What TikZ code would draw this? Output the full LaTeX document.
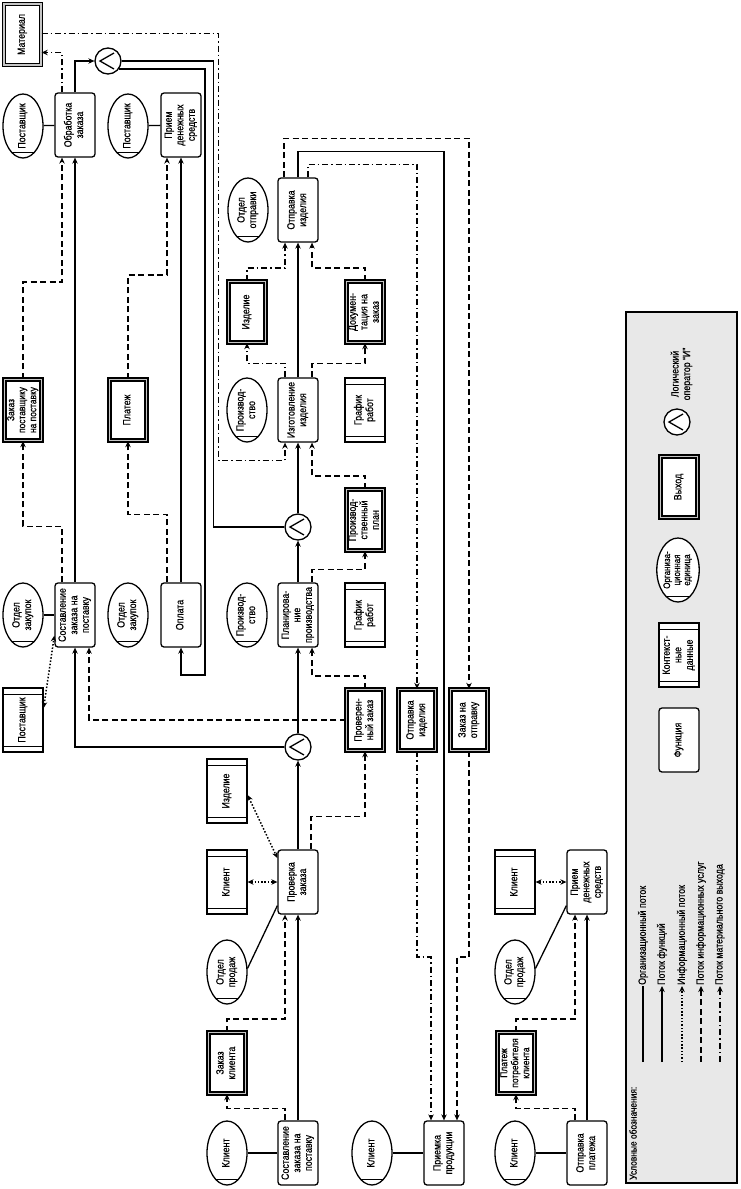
\documentclass[tikz,border=0pt]{standalone}
\usepackage{fontspec}
\setmainfont{Liberation Sans}[FakeStretch=0.84,FakeBold=0.6]
\usepackage{graphicx}
\usetikzlibrary{arrows.meta,shapes.geometric}

\newcommand{\rt}[1]{\rotatebox{90}{\begin{tabular}{@{}c@{}}#1\end{tabular}}}

\tikzset{
  base/.style={inner sep=0pt, fill=white, font=\fontsize{10.5}{11.5}\selectfont},
  fn/.style={base, draw, line width=1.3pt, rounded corners=3pt, minimum width=40pt, minimum height=64pt},
  orgu/.style={base, draw, ellipse, line width=1.3pt, minimum width=40pt, minimum height=64pt,
    path picture={\draw[line width=0.9pt] ([shift={(-14pt,-26pt)}]path picture bounding box.center) -- ([shift={(14pt,-26pt)}]path picture bounding box.center);}},
  outp/.style={base, draw, line width=1.4pt, double=gray!45, double distance=1.5pt, minimum width=37pt, minimum height=61pt},
  ctx/.style={base, draw, line width=1.2pt, minimum width=40pt, minimum height=64pt,
    path picture={
      \fill (path picture bounding box.north west) rectangle ([yshift=-4pt]path picture bounding box.north east);
      \fill (path picture bounding box.south west) rectangle ([yshift=4pt]path picture bounding box.south east);
      \draw[line width=0.7pt] ([yshift=-6pt]path picture bounding box.north west) -- ([yshift=-6pt]path picture bounding box.north east);
      \draw[line width=0.7pt] ([yshift=6pt]path picture bounding box.south west) -- ([yshift=6pt]path picture bounding box.south east);}},
  andop/.style={base, draw, circle, line width=1.3pt, minimum size=26pt,
    path picture={\draw[line width=1.3pt] ([shift={(6pt,8pt)}]path picture bounding box.center) -- ([xshift=-8pt]path picture bounding box.center) -- ([shift={(6pt,-8pt)}]path picture bounding box.center);}},
  org/.style={line width=1.3pt},
  ff/.style={line width=1.5pt, ->},
  inf/.style={line width=1.5pt, dash pattern=on 1.5pt off 1.8pt, <->},
  isf/.style={line width=1.5pt, dash pattern=on 6pt off 3.5pt, ->},
  mf/.style={line width=1.5pt, dash pattern=on 6pt off 3pt on 1.5pt off 3pt, ->},
  lab/.style={anchor=south, inner sep=1pt, font=\fontsize{10.5}{12}\selectfont}
}

\begin{document}
\begin{tikzpicture}[x=1pt, y=-1pt, >={Stealth[length=6pt,width=5.5pt]}]
    \useasboundingbox (0,0) rectangle (741,1189);

    \node[outp] (mat) at (22.5,34.5) {\rt{Материал}};
    \node[orgu] (post1) at (23,126) {\rt{Поставщик}};
    \node[fn] (obr) at (75,125) {\rt{Обработка\\заказа}};
    \node[andop] (and1) at (108,61) {};
    \node[orgu] (post2) at (128,126) {\rt{Поставщик}};
    \node[fn] (priem1) at (181,125) {\rt{Прием\\денежных\\средств}};
    \node[orgu] (oo) at (248,210) {\rt{Отдел\\отправки}};
    \node[fn] (otpr) at (298,210) {\rt{Отправка\\изделия}};

    \node[outp] (izd1) at (247,312) {\rt{Изделие}};
    \node[outp] (doc) at (365,312) {\rt{Докумен-\\тация на\\заказ}};
    \node[outp, font=\fontsize{10}{11}\selectfont] (zps) at (23,410) {\rt{Заказ\\поставщику\\на поставку}};
    \node[outp] (plat) at (128,410) {\rt{Платеж}};
    \node[orgu] (pr1) at (247,410) {\rt{Производ-\\ство}};
    \node[fn] (izg) at (298,410) {\rt{Изготовление\\изделия}};
    \node[ctx] (gr1) at (365,410) {\rt{График\\работ}};
    \node[andop] (and2) at (298,527) {};
    \node[outp] (pplan) at (365,520) {\rt{Производ-\\ственный\\план}};

    \node[orgu] (oz1) at (23,615) {\rt{Отдел\\закупок}};
    \node[fn] (sost1) at (75,615) {\rt{Составление\\заказа на\\поставку}};
    \node[orgu] (oz2) at (128,615) {\rt{Отдел\\закупок}};
    \node[fn] (opl) at (181,615) {\rt{Оплата}};
    \node[orgu] (pr2) at (247,615) {\rt{Производ-\\ство}};
    \node[fn] (plan) at (298,615) {\rt{Планирова-\\ние\\производства}};
    \node[ctx] (gr2) at (365,615) {\rt{График\\работ}};

    \node[ctx] (postc) at (23,720) {\rt{Поставщик}};
    \node[andop] (and3) at (298,747) {};
    \node[outp] (provz) at (365,720) {\rt{Проверен-\\ный заказ}};
    \node[outp] (otpro) at (417,720) {\rt{Отправка\\изделия}};
    \node[outp] (zakotpr) at (469,720) {\rt{Заказ на\\отправку}};
    \node[ctx] (izd2) at (227,791) {\rt{Изделие}};
    \node[ctx] (kl1c) at (227,882) {\rt{Клиент}};
    \node[fn] (prov) at (298,882) {\rt{Проверка\\заказа}};
    \node[orgu] (op1) at (227,972) {\rt{Отдел\\продаж}};
    \node[outp] (zakkl) at (227,1063) {\rt{Заказ\\клиента}};
    \node[orgu] (kl1) at (227,1153) {\rt{Клиент}};
    \node[fn] (sost2) at (298,1153) {\rt{Составление\\заказа на\\поставку}};
    \node[orgu] (kl2) at (372,1153) {\rt{Клиент}};
    \node[fn] (priemka) at (444,1153) {\rt{Приемка\\продукции}};

    \node[ctx] (kl3c) at (515,882) {\rt{Клиент}};
    \node[fn] (priem2) at (587,882) {\rt{Прием\\денежных\\средств}};
    \node[orgu] (op2) at (515,972) {\rt{Отдел\\продаж}};
    \node[outp, font=\fontsize{10}{11}\selectfont] (platp) at (516,1063) {\rt{Платеж\\потребителя\\клиента}};
    \node[orgu] (kl3) at (515,1153) {\rt{Клиент}};
    \node[fn] (otplat) at (587,1153) {\rt{Отправка\\платежа}};

    \path[org] (post1) edge (obr);
    \path[org] (post2) edge (priem1);
    \path[org] (oz1) edge (sost1);
    \path[org] (kl1) edge (sost2);
    \path[org] (kl2) edge (priemka);
    \path[org] (kl3) edge (otplat);
    \draw[org] (op1.10) -- ([yshift=9pt]prov.south west);
    \draw[org] (op2.10) -- ([yshift=9pt]priem2.south west);

    \path[ff] (sost1) edge (obr);
    \path[ff] (opl) edge (priem1);
    \path[ff] (plan) edge (and2);
    \path[ff] (and2) edge (izg);
    \path[ff] (izg) edge (otpr);
    \path[ff] (and3) edge (plan);
    \path[ff] (prov) edge (and3);
    \path[ff] (sost2) edge (prov);
    \path[ff] (otplat) edge (priem2);
    \draw[ff] (obr.north) |- (and1.west);
    \draw[ff,-] (and1.east) -- ++(92,0) |- (and2.west);
    \draw[ff] (and1.-35) -- ++(86,0) -- ++(0,606) -| (opl.south);
    \draw[ff] (and3.west) -| (sost1.south);
    \draw[ff] (otpr.north) -- ++(0,-26) -| (priemka.north);

    \draw[isf] ([xshift=-13pt]sost1.north) -- ++(0,-56) -| (zps.south);
    \draw[isf] (zps.north) -- ++(0,-97) -| ([xshift=-13pt]obr.south);
    \draw[isf] ([xshift=-14pt]opl.north) -- ++(0,-68) -| (plat.south);
    \draw[isf] (plat.north) -- ++(0,-104) -| ([xshift=-14pt]priem1.south);
    \draw[isf] ([xshift=14pt]plan.north) -- ++(0,-13) -| (pplan.south);
    \draw[isf] (pplan.north) -- ++(0,-13) -| ([xshift=14pt]izg.south);
    \draw[isf] ([xshift=14pt]izg.north) -- ++(0,-14) -| (doc.south);
    \draw[isf] (doc.north) -- ++(0,-13) -| ([xshift=14pt]otpr.south);
    \draw[isf] ([xshift=-14pt]otpr.north) -- ++(0,-39) -| (zakotpr.north);
    \draw[isf] (zakotpr.south) -- ++(0,206) -| ([xshift=13pt]priemka.north);
    \draw[isf] (provz.west) -| ([xshift=14pt]sost1.south);
    \draw[isf] (provz.north) -- ++(0,-13) -| ([xshift=14pt]plan.south);
    \draw[isf] ([xshift=13pt]prov.north) -- ++(0,-33) -| (provz.south);
    \draw[isf] ([xshift=-13pt]sost2.north) -- ++(0,-12) -| (zakkl.south);
    \draw[isf] (zakkl.north) -- ++(0,-13) -| ([xshift=-13pt]prov.south);
    \draw[isf] ([xshift=-12pt]otplat.north) -- ++(0,-12) -| (platp.south);
    \draw[isf] (platp.north) -- ++(0,-13) -| ([xshift=-12pt]priem2.south);

    \draw[mf] ([xshift=-13pt]obr.north) |- ([yshift=-18pt]mat.east);
    \draw[mf] ([yshift=1pt]mat.east) -- ++(177,0) -- ++(0,427) -| ([xshift=-13pt]izg.south);
    \draw[mf] ([xshift=-13pt]izg.north) -- ++(0,-14) -| (izd1.south);
    \draw[mf] (izd1.north) -- ++(0,-13) -| ([xshift=-13pt]otpr.south);
    \draw[mf] ([xshift=10pt]otpr.north) -- ++(0,-13) -| (otpro.north);
    \draw[mf] (otpro.south) -- ++(0,206) -| ([xshift=-13pt]priemka.north);

    \path[inf] (kl1c) edge (prov);
    \path[inf] (kl3c) edge (priem2);
    \draw[inf] ([yshift=-4pt]izd2.east) -- ([yshift=24pt]prov.west);
    \draw[inf] ([yshift=12pt]postc.east) -- ([yshift=12pt]sost1.south west);

    \node[draw, line width=1.2pt, fill=gray!18, minimum width=111pt, minimum height=871pt] (leg) at (681.5,747.5) {};
    \node[base, fill=none] (lop) at (682,374) {\rt{Логический\\оператор “И”}};
    \node[andop] (land) at (677,422) {};
    \node[outp] (lout) at (679,487) {\rt{Выход}};
    \node[orgu, font=\fontsize{9.5}{10}\selectfont] (lorg) at (678,570) {\rt{Организа-\\ционная\\единица}};
    \node[ctx] (lctx) at (679,655) {\rt{Контекст-\\ные\\данные}};
    \node[fn] (lfn) at (679,740) {\rt{Функция}};
    \node[lab, font=\fontsize{10}{12}\selectfont] (lhead) at (633,1181) {\rotatebox{90}{Условные обозначения:}};

    \coordinate (l1) at (643,1062);
    \coordinate (l2) at (662,1062);
    \coordinate (l3) at (682,1062);
    \coordinate (l4) at (701,1062);
    \coordinate (l5) at (720,1062);
    \node[lab] (t1) at (643,986) {\rotatebox{90}{Организационный поток}};
    \node[lab] (t2) at (662,986) {\rotatebox{90}{Поток функций}};
    \node[lab] (t3) at (682,986) {\rotatebox{90}{Информационный поток}};
    \node[lab] (t4) at (701,986) {\rotatebox{90}{Поток информационных услуг}};
    \node[lab] (t5) at (720,986) {\rotatebox{90}{Поток материального выхода}};
    \draw[org] (l1) -- (t1.south);
    \draw[ff] (l2) -- (t2.south);
    \draw[inf,->] (l3) -- (t3.south);
    \draw[isf] (l4) -- (t4.south);
    \draw[mf] (l5) -- (t5.south);

\end{tikzpicture}
\end{document}
